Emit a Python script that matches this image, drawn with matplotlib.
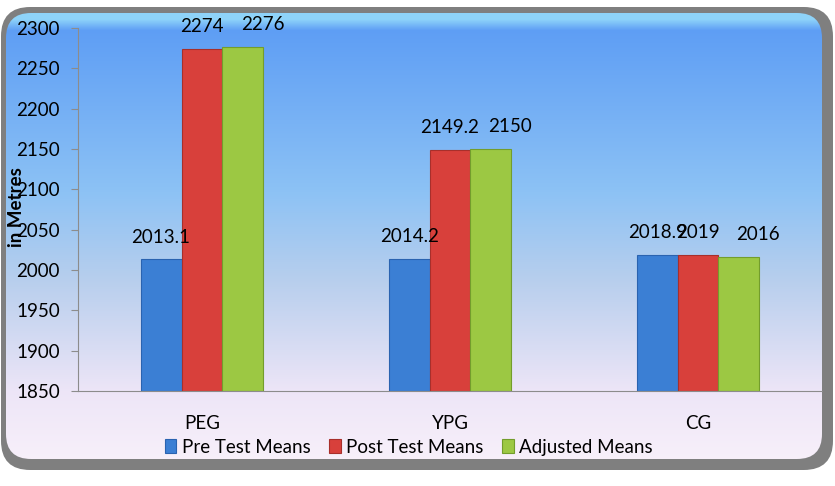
import numpy as np
import matplotlib
matplotlib.use("Agg")
import matplotlib.pyplot as plt
from matplotlib.patches import FancyBboxPatch

plt.rcParams['font.family'] = ['Lato', 'DejaVu Sans']

groups = ["PEG", "YPG", "CG"]
series = ["Pre Test Means", "Post Test Means", "Adjusted Means"]
pre_test = [2013.1, 2014.2, 2018.9]
post_test = [2274, 2149.2, 2019]
adjusted = [2276, 2150, 2016]
colors = ["#3b7fd4", "#d8403b", "#9cc843"]
edges = ["#2a63b0", "#a82f2b", "#739d2c"]
# label x-shift (pt) per series, the source chart nudges the green labels right
label_dx = [0, 0, 14]

W, H = 835, 486
fig = plt.figure(figsize=(W / 100, H / 100), dpi=100)

def fbox(x0, y0, x1, y1):
    # pixel box (top-left origin) -> figure fraction rect
    return (x0 / W, 1 - y1 / H, (x1 - x0) / W, (y1 - y0) / H)

# grey frame with shadow
gx, gy, gw, gh = fbox(1, 7, 833, 470)
frame = FancyBboxPatch((gx, gy), gw, gh, boxstyle="round,pad=0,rounding_size=0.035",
                       transform=fig.transFigure, facecolor="#7f7f7f",
                       edgecolor="none", mutation_aspect=W / H, zorder=-5)
fig.patches.append(frame)

# gradient inside the frame
ix, iy, iw, ih = fbox(6, 13, 822, 459)
bg = fig.add_axes([ix, iy, iw, ih], zorder=-2)
t = np.linspace(0, 1, 400)
stops = [0.0, 0.015, 0.04, 0.4, 0.6, 0.85, 1.0]
cols = np.array([[0.56, 0.83, 0.98], [0.56, 0.83, 0.98], [0.37, 0.62, 0.96],
                 [0.55, 0.76, 0.96], [0.72, 0.81, 0.93], [0.93, 0.90, 0.97],
                 [0.97, 0.94, 0.98]])
img = np.stack([np.interp(t, stops, cols[:, k]) for k in range(3)], axis=1)
im = bg.imshow(img[:, None, :].repeat(2, axis=1), aspect="auto",
               extent=[0, 1, 0, 1], interpolation="bilinear")
clip = FancyBboxPatch((ix, iy), iw, ih, boxstyle="round,pad=0,rounding_size=0.03",
                      transform=fig.transFigure, facecolor="none", edgecolor="none",
                      mutation_aspect=W / H)
im.set_clip_path(clip)
bg.set_axis_off()

ax = fig.add_axes(fbox(78, 28, 822, 391))
ax.patch.set_alpha(0)
x = np.arange(len(groups))
w = 0.165
for i, (vals, c, e) in enumerate(zip([pre_test, post_test, adjusted], colors, edges)):
    ax.bar(x + (i - 1) * w, np.array(vals) - 1850, w, bottom=1850,
           color=c, edgecolor=e, linewidth=0.8, label=series[i])
    for xi, v in zip(x + (i - 1) * w, vals):
        ax.annotate(f"{v:g}", (xi, v), xytext=(label_dx[i], 10),
                    textcoords="offset points", ha="center", va="bottom",
                    fontsize=13.5)

ax.set_ylim(1850, 2300)
ax.set_xlim(-0.5, 2.5)
ax.set_yticks(np.arange(1850, 2301, 50))
ax.set_xticks(x)
ax.set_xticklabels(groups)
ax.tick_params(axis="y", labelsize=13.5, length=5, color="#8c8c8c", pad=8)
ax.tick_params(axis="x", labelsize=13.5, length=0, pad=17)
for s in ["top", "right"]:
    ax.spines[s].set_visible(False)
ax.spines["left"].set_color("#8c8c8c")
ax.spines["bottom"].set_color("#8c8c8c")

fig.text(17 / W, 1 - 207 / H, "in Metres", rotation=90, ha="center", va="center",
         fontsize=13.5, fontweight="bold")

handles, labels = ax.get_legend_handles_labels()
fig.legend(handles, labels, loc="center", bbox_to_anchor=(409 / W, 1 - 447 / H),
           ncol=3, frameon=False, fontsize=13.5, handlelength=0.6, handleheight=0.8,
           handletextpad=0.3, columnspacing=1.0)

fig.savefig("out.png", dpi=100)
